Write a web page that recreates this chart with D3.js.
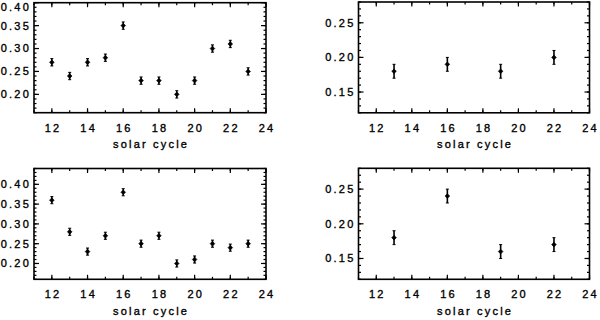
<!DOCTYPE html>
<html>
<head>
<meta charset="utf-8">
<script src="https://cdn.jsdelivr.net/npm/d3@7"></script>
<style>
  body { margin: 0; background: #fff; }
  svg text { font-family: "Liberation Sans", Arial, sans-serif; font-size: 11px; letter-spacing: 2.2px; fill: #000; stroke: #000; stroke-width: 0.35px; }
</style>
</head>
<body>
<svg id="fig" width="600" height="320"></svg>
<script>
// solar cycles for each panel
var cycles_all = [12, 13, 14, 15, 16, 17, 18, 19, 20, 21, 22, 23];
var cycles_few = [13, 16, 19, 22];

// values
var values_tl = [0.27, 0.24, 0.27, 0.28, 0.35, 0.23, 0.23, 0.20, 0.23, 0.30, 0.31, 0.25];
var errors_tl = [0.008, 0.008, 0.008, 0.008, 0.008, 0.008, 0.008, 0.008, 0.008, 0.008, 0.008, 0.008];
var values_tr = [0.18, 0.19, 0.18, 0.20];
var errors_tr = [0.01, 0.01, 0.01, 0.01];
var values_bl = [0.36, 0.28, 0.23, 0.27, 0.38, 0.25, 0.27, 0.20, 0.21, 0.25, 0.24, 0.25];
var errors_bl = [0.009, 0.009, 0.009, 0.009, 0.009, 0.009, 0.009, 0.009, 0.009, 0.009, 0.009, 0.009];
var values_br = [0.18, 0.24, 0.16, 0.17];
var errors_br = [0.01, 0.01, 0.01, 0.01];

// tick labels
var x_ticks = [12, 14, 16, 18, 20, 22, 24];
var y_ticks_a = [0.20, 0.25, 0.30, 0.35, 0.40];
var y_ticks_b = [0.15, 0.20, 0.25];

var x_label = "solar cycle";

var svg = d3.select("#fig");

function draw_panel(box, xs, ys, errs, yDomain, yTicks) {
    var x = d3.scaleLinear().domain([11, 24]).range([box.left, box.right]);
    var y = d3.scaleLinear().domain(yDomain).range([box.bottom, box.top]);
    var g = svg.append("g");

    // inward ticks on all four sides
    var xMinor = d3.range(11, 24.001, 1);
    var xMajor = x_ticks;
    var yMinor = d3.range(Math.round(yDomain[0] * 100), Math.round(yDomain[1] * 100) + 1).map(function(v) { return v / 100; });

    function tickLines(vals, len) {
        vals.forEach(function(v) {
            var px = x(v);
            g.append("line").attr("x1", px).attr("x2", px).attr("y1", box.bottom).attr("y2", box.bottom - len).attr("class", "tk");
            g.append("line").attr("x1", px).attr("x2", px).attr("y1", box.top).attr("y2", box.top + len).attr("class", "tk");
        });
    }
    tickLines(xMinor, 2.5);
    tickLines(xMajor, 4.5);

    function yTickLines(vals, len) {
        vals.forEach(function(v) {
            var py = y(v);
            g.append("line").attr("y1", py).attr("y2", py).attr("x1", box.left).attr("x2", box.left + len).attr("class", "tk");
            g.append("line").attr("y1", py).attr("y2", py).attr("x1", box.right).attr("x2", box.right - len).attr("class", "tk");
        });
    }
    yTickLines(yMinor, 2.5);
    yTickLines(yTicks, 5);

    g.selectAll(".tk").attr("stroke", "#000").attr("stroke-width", 1.2);

    // frame
    g.append("rect")
        .attr("x", box.left).attr("y", box.top)
        .attr("width", box.right - box.left).attr("height", box.bottom - box.top)
        .attr("fill", "none").attr("stroke", "#000").attr("stroke-width", 1.6);

    // y tick labels
    g.selectAll(".ylab").data(yTicks).enter().append("text")
        .attr("x", box.left - 3)
        .attr("y", function(d) { return Math.max(y(d), 7.5); })
        .attr("dy", "0.36em")
        .attr("text-anchor", "end")
        .text(function(d) { return d3.format(".2f")(d); });

    // x tick labels
    g.selectAll(".xlab").data(x_ticks).enter().append("text")
        .attr("x", function(d) { return x(d) + 1.1; })
        .attr("y", box.bottom + 19)
        .attr("text-anchor", "middle")
        .text(function(d) { return d; });

    g.append("text")
        .attr("x", (box.left + box.right) / 2 + 1.1)
        .attr("y", box.bottom + 35.5)
        .attr("text-anchor", "middle")
        .text(x_label);

    // error bars and points
    var pts = xs.map(function(c, i) { return { c: c, v: ys[i], e: errs[i] }; });
    var eb = g.selectAll(".eb").data(pts).enter().append("g");
    eb.append("line")
        .attr("x1", function(d) { return x(d.c); }).attr("x2", function(d) { return x(d.c); })
        .attr("y1", function(d) { return y(d.v - d.e); }).attr("y2", function(d) { return y(d.v + d.e); })
        .attr("stroke", "#000").attr("stroke-width", 1.6);
    [-1, 1].forEach(function(s) {
        eb.append("line")
            .attr("x1", function(d) { return x(d.c) - 1.5; }).attr("x2", function(d) { return x(d.c) + 1.5; })
            .attr("y1", function(d) { return y(d.v + s * d.e); }).attr("y2", function(d) { return y(d.v + s * d.e); })
            .attr("stroke", "#000").attr("stroke-width", 1);
    });
    // small diamond marker
    eb.append("path")
        .attr("d", d3.symbol(d3.symbolDiamond2, 14)())
        .attr("transform", function(d) { return "translate(" + x(d.c) + "," + y(d.v) + ")"; })
        .attr("fill", "#000").attr("stroke", "#000").attr("stroke-width", 0.6);
}

draw_panel({left: 34, right: 266, top: 2.7, bottom: 112.7}, cycles_all, values_tl, errors_tl, [0.16, 0.40], y_ticks_a);
draw_panel({left: 358.5, right: 589.5, top: 2, bottom: 112.8}, cycles_few, values_tr, errors_tr, [0.12, 0.28], y_ticks_b);
draw_panel({left: 34, right: 266, top: 168.5, bottom: 279.3}, cycles_all, values_bl, errors_bl, [0.16, 0.44], y_ticks_a);
draw_panel({left: 358.5, right: 589.5, top: 168.3, bottom: 279.3}, cycles_few, values_br, errors_br, [0.12, 0.28], y_ticks_b);
</script>
</body>
</html>
